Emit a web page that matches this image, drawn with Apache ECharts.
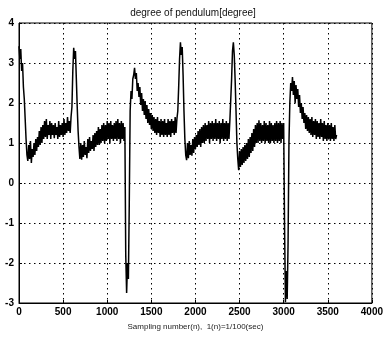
<!DOCTYPE html>
<html>
<head>
<meta charset="utf-8">
<script src="https://cdn.jsdelivr.net/npm/echarts@6/dist/echarts.min.js"></script>
<style>
  html, body { margin: 0; padding: 0; background: #fff; }
  #main { width: 386px; height: 339px; }
</style>
</head>
<body>
<div id="main"></div>
<script>
// pendulum angle, one value every sampleStep samples
const sampleStep = 10;
const degree = [
    3.42, 3.1, 3.35, 2.8, 3.0, 2.4, 2.1, 1.6, 1.1, 0.7,
    0.55, 0.95, 0.6, 1.05, 0.5, 0.85, 0.65, 1.0, 0.7, 1.1,
    0.8, 1.15, 0.9, 1.3, 0.95, 1.4, 1.0, 1.45, 1.1, 1.55,
    1.15, 1.6, 1.1, 1.45, 1.2, 1.55, 1.1, 1.5, 1.2, 1.45,
    1.12, 1.5, 1.2, 1.4, 1.1, 1.55, 1.15, 1.45, 1.2, 1.5,
    1.15, 1.6, 1.2, 1.5, 1.25, 1.65, 1.3, 1.55, 1.25, 1.65,
    1.9, 2.8, 3.38, 3.1, 3.3, 2.6, 1.9, 1.3, 0.9, 0.6,
    1.0, 0.58, 0.95, 0.65, 1.05, 0.7, 0.9, 0.62, 1.1, 0.75,
    1.15, 0.8, 1.05, 0.85, 1.2, 0.8, 1.25, 0.9, 1.3, 0.95,
    1.4, 0.95, 1.35, 1.0, 1.45, 1.05, 1.5, 1.0, 1.45, 1.05,
    1.55, 1.1, 1.5, 1.0, 1.55, 1.1, 1.45, 1.05, 1.5, 1.1,
    1.55, 1.05, 1.6, 1.1, 1.5, 1.0, 1.55, 1.1, 1.5, 1.05,
    1.4, -1.8, -2.75, -2.0, -2.4, -0.5, 1.8, 2.3, 2.1, 2.6,
    2.7, 2.88, 2.6, 2.75, 2.3, 2.5, 2.15, 2.4, 1.95, 2.25,
    1.8, 2.1, 1.7, 2.05, 1.6, 1.95, 1.5, 1.85, 1.45, 1.75,
    1.35, 1.7, 1.3, 1.65, 1.25, 1.6, 1.2, 1.65, 1.25, 1.55,
    1.15, 1.6, 1.2, 1.55, 1.15, 1.6, 1.2, 1.5, 1.15, 1.6,
    1.2, 1.55, 1.15, 1.6, 1.25, 1.55, 1.2, 1.65, 1.25, 1.6,
    1.8, 2.4, 3.1, 3.52, 3.2, 3.4, 2.7, 1.8, 1.1, 0.7,
    0.57, 1.0, 0.62, 1.05, 0.7, 0.95, 0.68, 1.1, 0.75, 1.15,
    0.85, 1.2, 0.9, 1.3, 0.95, 1.35, 0.9, 1.4, 1.0, 1.45,
    1.0, 1.5, 1.05, 1.45, 1.1, 1.55, 1.0, 1.5, 1.1, 1.55,
    1.05, 1.5, 1.1, 1.6, 1.05, 1.5, 1.1, 1.55, 1.0, 1.5,
    1.1, 1.6, 1.05, 1.5, 1.1, 1.55, 1.05, 1.5, 1.1, 1.55,
    1.6, 2.6, 3.3, 3.52, 3.2, 2.57, 1.8, 1.0, 0.6, 0.32,
    0.8, 0.4, 0.85, 0.45, 0.9, 0.5, 0.95, 0.55, 1.0, 0.6,
    1.1, 0.65, 1.15, 0.75, 1.25, 0.8, 1.35, 0.9, 1.45, 1.0,
    1.5, 1.0, 1.57, 1.05, 1.5, 1.0, 1.45, 1.05, 1.55, 1.0,
    1.5, 1.05, 1.45, 1.0, 1.55, 1.0, 1.5, 1.05, 1.45, 1.0,
    1.5, 1.05, 1.55, 1.0, 1.5, 1.05, 1.55, 1.0, 1.5, 1.1,
    1.5, -1.0, -2.98, -2.2, -2.9, -1.5, 1.0, 2.0, 2.5, 2.3,
    2.65, 2.2, 2.55, 2.0, 2.45, 2.1, 2.35, 1.9, 2.2, 1.75,
    2.0, 1.6, 1.9, 1.5, 1.75, 1.35, 1.7, 1.3, 1.65, 1.25,
    1.6, 1.2, 1.65, 1.15, 1.55, 1.2, 1.6, 1.1, 1.55, 1.15,
    1.5, 1.1, 1.6, 1.15, 1.5, 1.05, 1.55, 1.1, 1.45, 1.05,
    1.5, 1.1, 1.45, 1.05, 1.5, 1.1, 1.4, 1.05, 1.45, 1.1,
    1.2
];
const xTicks = [0, 500, 1000, 1500, 2000, 2500, 3000, 3500, 4000];
const yTicks = [-3, -2, -1, 0, 1, 2, 3, 4];

const titleText = 'degree of pendulum[degree]';
const xName = 'Sampling number(n),  1(n)=1/100(sec)';

function renderChart(){
    let myChart = echarts.init(document.getElementById('main'), null, {renderer: 'canvas'});
    let points = degree.map((v, i) => [i * sampleStep, v]);
    let gridLine = {show: true, lineStyle: {color: '#000', type: [1.5, 3.5], width: 1}};
    let option = {
        animation: false,
        backgroundColor: '#fff',
        textStyle: {fontFamily: 'Liberation Sans'},
        title: {
            text: titleText,
            left: 'center',
            top: 3,
            textStyle: {fontSize: 10, fontWeight: 'normal', color: '#111'}
        },
        grid: {
            left: 19, right: 8, top: 23, bottom: 36,
            show: true, borderColor: '#000', borderWidth: 1
        },
        xAxis: {
            type: 'value',
            min: xTicks[0], max: xTicks[xTicks.length - 1], interval: 500,
            name: xName,
            nameLocation: 'middle',
            nameGap: 20,
            nameTextStyle: {fontSize: 8, color: '#222'},
            axisLine: {show: true, onZero: false, lineStyle: {color: '#000'}},
            axisTick: {show: true, inside: true, length: 3, lineStyle: {color: '#000'}},
            axisLabel: {fontSize: 10, fontWeight: 'bold', color: '#000', margin: 4,
                formatter: v => String(v)},
            splitLine: gridLine
        },
        yAxis: {
            type: 'value',
            min: yTicks[0], max: yTicks[yTicks.length - 1], interval: 1,
            axisLine: {show: true, onZero: false, lineStyle: {color: '#000'}},
            axisTick: {show: true, inside: true, length: 3, lineStyle: {color: '#000'}},
            axisLabel: {fontSize: 10, fontWeight: 'bold', color: '#000', margin: 5},
            splitLine: gridLine
        },
        series: [{
            type: 'line',
            data: points,
            symbol: 'none',
            lineStyle: {color: '#000', width: 1.5},
            z: 3
        }]
    };
    myChart.setOption(option);
}

renderChart();
</script>
</body>
</html>
